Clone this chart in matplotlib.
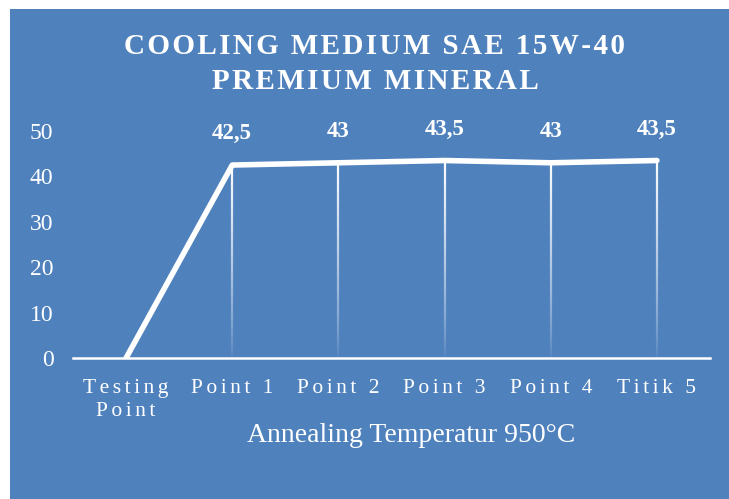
import numpy as np
import matplotlib.pyplot as plt
from matplotlib.patches import Rectangle
from matplotlib.collections import LineCollection

categories = ["Testing\nPoint", "Point 1", "Point 2", "Point 3", "Point 4", "Titik 5"]
values = [0, 42.5, 43, 43.5, 43, 43.5]
value_labels = ["", "42,5", "43", "43,5", "43", "43,5"]
y_ticks = [0, 10, 20, 30, 40, 50]

BLUE = "#4F81BD"
SERIF = ["Liberation Serif", "DejaVu Serif"]


def spaced(s, gap="\u200a"):
    # crude letter spacing: put a hair space between characters on each line
    return "\n".join(gap.join(line) for line in s.split("\n"))


W, H = 729, 499
fig = plt.figure(figsize=(W / 100, H / 100), dpi=100)
fig.patch.set_facecolor("white")
fig.patches.append(Rectangle((10 / W, 0), 1 - 10 / W, (H - 9) / H,
                             transform=fig.transFigure, facecolor=BLUE,
                             edgecolor="none", zorder=-10))

ax = fig.add_axes([73 / W, (H - 358) / H, 637 / W, 227 / H])
ax.set_facecolor("none")
x = np.arange(len(categories))

# drop lines fading out towards the axis
segs, cols = [], []
n = 40
for xi, v in zip(x, values):
    if v <= 0:
        continue
    ys = np.linspace(0, v, n + 1)
    for k in range(n):
        segs.append([(xi, ys[k]), (xi, ys[k + 1])])
        cols.append((1, 1, 1, 0.05 + 0.95 * (k / n) ** 0.8))
ax.add_collection(LineCollection(segs, colors=cols, linewidths=1.6, zorder=2))

ax.plot(x, values, color="white", lw=4, solid_capstyle="round",
        solid_joinstyle="round", zorder=3)

for xi, v, lab in zip(x, values, value_labels):
    if lab:
        ax.annotate(lab, (xi, v), xytext=(0, 15), textcoords="offset points",
                    ha="center", va="bottom", color="white", fontsize=16.5,
                    fontweight="bold", family=SERIF)

ax.set_xlim(-0.5, len(categories) - 0.5)
ax.set_ylim(0, 50)
ax.set_yticks(y_ticks)
ax.set_yticklabels([str(t) for t in y_ticks], color="white", fontsize=17,
                   family=SERIF)
ax.set_xticks(x)
ax.set_xticklabels([spaced(c, "\u200a\u200a") for c in categories],
                   color="white", fontsize=15.5, family=SERIF, linespacing=1.3)
ax.tick_params(axis="both", length=0)
ax.tick_params(axis="y", pad=14)
ax.tick_params(axis="x", pad=15)
for side in ["top", "right", "left"]:
    ax.spines[side].set_visible(False)
ax.spines["bottom"].set_color("white")
ax.spines["bottom"].set_linewidth(1.8)

fig.text(411 / W, 1 - 435 / H, "Annealing Temperatur 950°C", ha="center",
         va="center", color="white", fontsize=20, family=SERIF)
fig.text(375 / W, 1 - 64 / H,
         spaced("COOLING MEDIUM SAE 15W-40\nPREMIUM MINERAL"),
         ha="center", va="center", color="white", fontsize=21,
         fontweight="bold", family=SERIF, linespacing=1.35)

fig.savefig("out.png", dpi=100, facecolor=fig.get_facecolor())
